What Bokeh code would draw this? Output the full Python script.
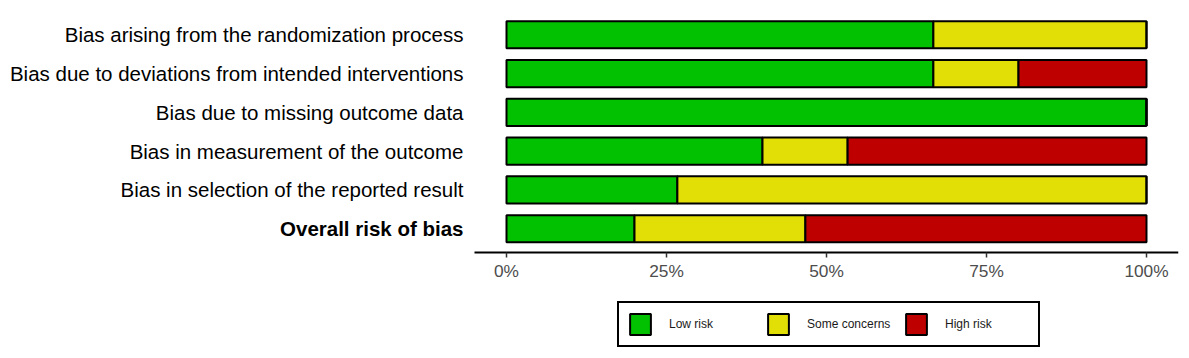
from bokeh.plotting import figure
from bokeh.models import (FixedTicker, NumeralTickFormatter, Legend, LegendItem,
                          ColumnDataSource, Range1d)
from bokeh.core.properties import value
from bokeh.embed import file_html
from bokeh.resources import INLINE

domains = [
    "Bias arising from the randomization process",
    "Bias due to deviations from intended interventions",
    "Bias due to missing outcome data",
    "Bias in measurement of the outcome",
    "Bias in selection of the reported result",
    "Overall risk of bias",
]
low_risk = [0.667, 0.667, 1.0, 0.400, 0.267, 0.200]
some_concerns = [0.333, 0.133, 0.0, 0.133, 0.733, 0.267]
high_risk = [0.0, 0.200, 0.0, 0.467, 0.0, 0.533]
levels = ["Low risk", "Some concerns", "High risk"]
colors = ["#02C100", "#E2DF07", "#BF0000"]
x_ticks = [0, 0.25, 0.5, 0.75, 1.0]

FONT = "Liberation Sans"
n = len(domains)
ypos = [n - i for i in range(n)]

# layout geometry (pixels)
W, H = 1181, 350
frame_left, frame_right, frame_top = 8, 1178, 11
x0_px, px_per_x = 506, 640          # where 0% sits, pixels per 100%
axis_px, px_per_y = 251.5, 38.8     # axis line position, pixels per row
x_lo, x_hi = -0.05, 1.05            # expanded data span of the bar panel
y_lo, y_hi = 0.4, n + 0.6

x_start = -(x0_px - frame_left) / px_per_x
x_end = x_hi
y_end = y_hi
y_start = y_lo - (H - axis_px) / px_per_y

src = ColumnDataSource(dict(y=ypos, low=low_risk, some=some_concerns, high=high_risk))
lab_src = ColumnDataSource(dict(
    y=ypos, text=domains, x=[x_lo] * n,
    style=["bold" if d == "Overall risk of bias" else "normal" for d in domains]))

p = figure(width=W, height=H, output_backend="svg", toolbar_location=None,
           x_range=Range1d(x_start, x_end), y_range=Range1d(y_start, y_end),
           min_border_left=frame_left, min_border_right=W - frame_right,
           min_border_top=frame_top, min_border_bottom=0)

rs = p.hbar_stack(["low", "some", "high"], y="y", height=0.7, source=src,
                  color=colors, line_color="black", line_width=2)
for r, c in zip(rs, colors):
    r.glyph.fill_color = c
    r.glyph.line_color = "black"

p.text(x="x", y="y", text="text", source=lab_src, x_offset=-11,
       text_align="right", text_baseline="middle",
       text_font=value(FONT), text_font_size=value("20.5px"),
       text_font_style="style", text_color="black")

p.grid.visible = False
p.outline_line_color = None
p.background_fill_color = "white"
p.border_fill_color = "white"
p.yaxis.visible = False

# x axis, pinned at the bottom of the bar panel
xa = p.xaxis[0]
xa.fixed_location = y_lo
xa.bounds = (x_lo, x_hi)
xa.ticker = FixedTicker(ticks=x_ticks)
xa.formatter = NumeralTickFormatter(format="0%")
xa.axis_line_color = "black"
xa.axis_line_width = 2
xa.major_tick_line_color = "#333333"
xa.major_tick_line_width = 1.5
xa.major_tick_out = 5
xa.major_tick_in = 0
xa.minor_tick_line_color = None
xa.major_label_text_font = FONT
xa.major_label_text_font_size = "17.3px"
xa.major_label_text_color = "#4D4D4D"
xa.major_label_standoff = 4

legend = Legend(items=[LegendItem(label=l, renderers=[r]) for l, r in zip(levels, rs)],
                orientation="horizontal", location=(617 - frame_left, H - 347))
legend.glyph_width = 26
legend.glyph_height = 26
legend.label_width = 85
legend.label_standoff = 16
legend.spacing = 11
legend.padding = 8
legend.margin = 0
legend.border_line_color = "black"
legend.border_line_width = 2
legend.border_line_alpha = 1
legend.background_fill_color = "white"
legend.background_fill_alpha = 1
legend.label_text_font = FONT
legend.label_text_font_size = "12px"
legend.label_text_color = "#1A1A1A"
p.add_layout(legend)

open("out.html", "w").write(file_html(p, INLINE))
